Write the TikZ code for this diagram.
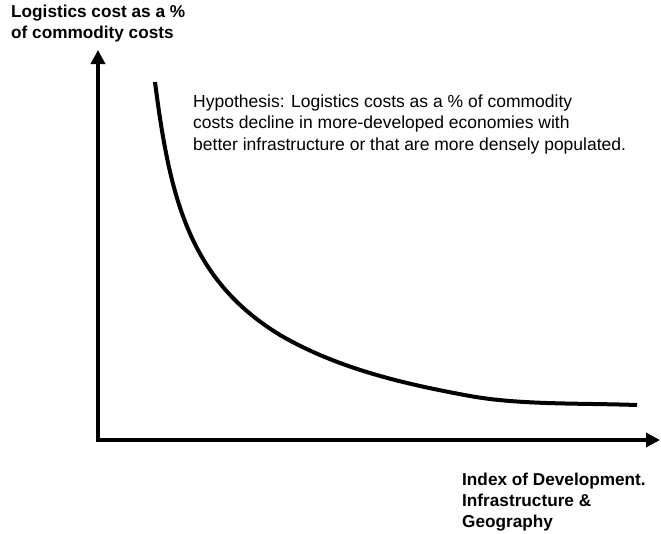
\documentclass[tikz,border=0pt]{standalone}
\usepackage{fontspec}
\setmainfont{Liberation Sans}
\usetikzlibrary{arrows.meta}
\begin{document}
\begin{tikzpicture}[x=1pt,y=-1pt,
  axis/.style={line width=4pt,-{Triangle[length=14pt,width=14pt]}},
  curve/.style={line width=4pt},
  lbl/.style={font=\fontsize{17.2}{21}\selectfont\bfseries,align=left,anchor=base west,inner sep=0pt},
  hyp/.style={font=\fontsize{17.5}{21.5}\selectfont,align=left,anchor=base west,inner sep=0pt}]
\useasboundingbox (0,0) rectangle (661,533);
\coordinate (o) at (98,440);
\coordinate (ytip) at (98,50);
\coordinate (xtip) at (660,440);
\draw[axis] ([yshift=-2pt]o) -- (ytip);
\draw[axis] ([xshift=-2pt]o) -- (xtip);
\draw[curve] (155,82) .. controls (170,200) and (190,280) .. (280,335)
  .. controls (340,370) and (410,385) .. (470,396)
  .. controls (520,405) and (580,403) .. (637,405);
\node[lbl] (ylab) at (11,38) {Logistics cost as a \%\\of commodity costs};
\node[hyp] (hyp) at (193,150) {Hypothesis: Logistics costs as a \% of commodity\\costs decline in more-developed economies with\\better infrastructure or that are more densely populated.};
\node[lbl] (xlab) at (462,527) {Index of Development.\\Infrastructure \&\\Geography};
\end{tikzpicture}
\end{document}
